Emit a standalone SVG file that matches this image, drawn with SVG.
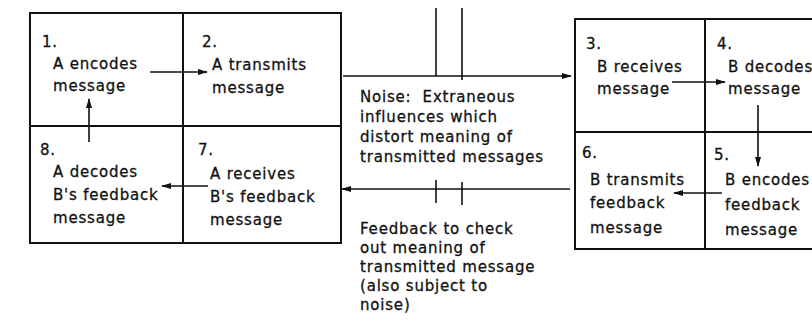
<svg xmlns="http://www.w3.org/2000/svg" width="812" height="330" viewBox="0 0 812 330">
<defs>
<marker id="ah" markerWidth="10" markerHeight="8" refX="9" refY="4" orient="auto" markerUnits="userSpaceOnUse">
<path d="M0,1 L10,4 L0,7 Z" fill="#111"/>
</marker>
<style>
text{font-family:"DejaVu Sans",sans-serif;font-size:15px;letter-spacing:0.8px;fill:#111;stroke:#111;stroke-width:0.3}
.box{fill:none;stroke:#111;stroke-width:2}
.ln{stroke:#111;stroke-width:1.6;fill:none}
.ar{stroke:#111;stroke-width:1.6;fill:none;marker-end:url(#ah)}
</style>
</defs>
<rect width="812" height="330" fill="#fff"/>
<g id="frameA">
<rect class="box" x="30" y="13" width="311" height="230"/>
<line class="box" x1="183" y1="13" x2="183" y2="243"/>
<line class="box" x1="30" y1="126" x2="341" y2="126"/>
</g>
<g id="frameB">
<rect class="box" x="575" y="19" width="260" height="230"/>
<line class="box" x1="705" y1="19" x2="705" y2="249"/>
<line class="box" x1="575" y1="132" x2="835" y2="132"/>
</g>
<g id="n1"><text x="42" y="47">1.</text><text x="53" y="69">A encodes</text><text x="53" y="91">message</text></g>
<g id="n2"><text x="202" y="47">2.</text><text x="212" y="70">A transmits</text><text x="212" y="93">message</text></g>
<g id="n8"><text x="40" y="155">8.</text><text x="53" y="177">A decodes</text><text x="53" y="200">B's feedback</text><text x="53" y="223">message</text></g>
<g id="n7"><text x="198" y="155">7.</text><text x="210" y="179">A receives</text><text x="210" y="202">B's feedback</text><text x="210" y="225">message</text></g>
<g id="n3"><text x="586" y="49">3.</text><text x="597" y="72">B receives</text><text x="597" y="94">message</text></g>
<g id="n4"><text x="717" y="49">4.</text><text x="728" y="72">B decodes</text><text x="728" y="94">message</text></g>
<g id="n6"><text x="582" y="158">6.</text><text x="590" y="185">B transmits</text><text x="590" y="208">feedback</text><text x="590" y="233">message</text></g>
<g id="n5"><text x="714" y="160">5.</text><text x="725" y="185">B encodes</text><text x="725" y="210">feedback</text><text x="725" y="235">message</text></g>
<g id="noise"><text x="360" y="102">Noise:&#160; Extraneous</text><text x="360" y="122">influences which</text><text x="360" y="142">distort meaning of</text><text x="360" y="162">transmitted messages</text></g>
<g id="feedback"><text x="360" y="234">Feedback to check</text><text x="360" y="253">out meaning of</text><text x="360" y="272">transmitted message</text><text x="360" y="291">(also subject to</text><text x="360" y="310">noise)</text></g>
<g id="connectors">
<line class="ar" x1="150" y1="72" x2="207" y2="72"/>
<line class="ar" x1="89" y1="142" x2="89" y2="99"/>
<line class="ar" x1="208" y1="186" x2="162" y2="186"/>
<line class="ar" x1="343" y1="76" x2="571" y2="76"/>
<line class="ar" x1="570" y1="189" x2="342" y2="189"/>
<line class="ln" x1="436" y1="8" x2="436" y2="76"/>
<line class="ln" x1="462" y1="8" x2="462" y2="80"/>
<line class="ln" x1="436" y1="180" x2="436" y2="203"/>
<line class="ln" x1="462" y1="182" x2="462" y2="205"/>
<line class="ar" x1="672" y1="82" x2="725" y2="82"/>
<line class="ar" x1="758" y1="105" x2="758" y2="166"/>
<line class="ar" x1="722" y1="193" x2="674" y2="193"/>
</g>
</svg>
